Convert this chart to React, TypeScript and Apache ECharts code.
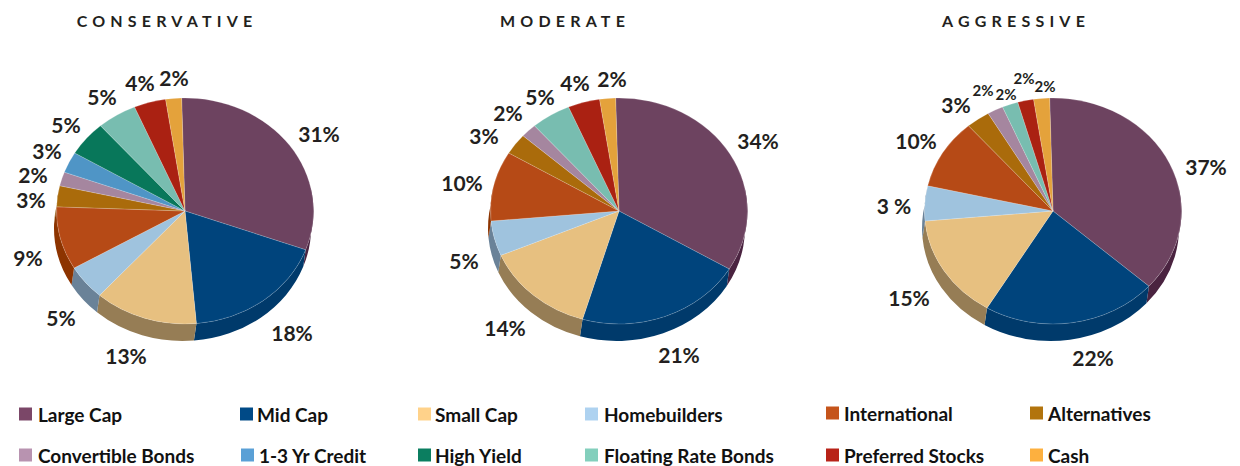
import React, { useEffect, useRef } from "react";
import * as echarts from "echarts";

const categories = ["Large Cap", "Mid Cap", "Small Cap", "Homebuilders", "International", "Alternatives", "Convertible Bonds", "1-3 Yr Credit", "High Yield", "Floating Rate Bonds", "Preferred Stocks", "Cash"];
const portfolios = ["CONSERVATIVE", "MODERATE", "AGGRESSIVE"];

const conservativeValues = [31, 18, 13, 5, 9, 3, 2, 3, 5, 5, 4, 2];
const moderateValues = [34, 21, 14, 5, 10, 3, 2, 0, 0, 5, 4, 2];
const aggressiveValues = [37, 22, 15, 5, 10, 3, 2, 0, 0, 2, 2, 2];

const conservativeLabels = ["31%", "18%", "13%", "5%", "9%", "3%", "2%", "3%", "5%", "5%", "4%", "2%"];
const moderateLabels = ["34%", "21%", "14%", "5%", "10%", "3%", "2%", "5%", "4%", "2%"];
const aggressiveLabels = ["37%", "22%", "15%", "3 %", "10%", "3%", "2%", "2%", "2%", "2%"];

// Styling and layout, kept apart from the data
const faceColors = ["#6d4360", "#00447c", "#e7c080", "#9fc3de", "#b64a16", "#aa6b0b", "#a5869f", "#4f95c6", "#08775a", "#78bdb0", "#aa2112", "#e4a23b"];
const wallColors = ["#4a2340", "#003a6b", "#967d55", "#6a8298", "#8d3400", "#8a5a00", "#7d6078", "#3a7099", "#055a44", "#5a8f85", "#801808", "#ad7a2a"];
const swatchColors = ["#7b4768", "#004a87", "#ffd28a", "#aed2f0", "#c5541b", "#b2740d", "#b893b0", "#5aa0d6", "#0b7e60", "#83cfbc", "#b82218", "#fdb03f"];

const pieCentres = [[185, 211], [619, 211], [1053, 211]];
const titleCentres = [167, 565, 1016];
const RX = 128.5;
const RY = 113;
const DEPTH = 17;
const WALL_SHIFT = -2.5;
const START_DEG = -1.5;

const labelPositions = [
  [[319, 133], [292, 332], [126, 355], [61, 317], [28, 257], [31, 199], [33, 174], [47, 150], [66, 124], [102, 96], [140, 82], [174, 77]],
  [[758, 140], [679, 354], [505, 327], [464, 260], [462, 182], [484, 135], [508, 112], [540, 96], [575, 82], [612, 78]],
  [[1206, 166], [1093, 357], [909, 297], [894, 205], [916, 140], [956, 104], [983, 90], [1006, 94], [1024, 78], [1045, 86]],
];
const smallLabelFrom = [99, 99, 6];

const legendSwatchX = [19, 240, 418, 585, 826, 1030, 19, 241, 418, 585, 826, 1030];
const legendTextX = [38, 257, 435, 604, 844, 1048, 38, 259, 435, 604, 844, 1048];
const legendY = [414, 414, 414, 414, 413, 413, 455, 455, 455, 455, 455, 455];

const FONT = "Lato";
const TEXT_COLOR = "#231f20";

function pt(cx: number, cy: number, deg: number) {
  const a = (deg * Math.PI) / 180;
  return [cx + RX * Math.sin(a), cy - RY * Math.cos(a)];
}

function facePath(cx: number, cy: number, a0: number, a1: number) {
  const p0 = pt(cx, cy, a0);
  const p1 = pt(cx, cy, a1);
  const large = a1 - a0 > 180 ? 1 : 0;
  return `M${cx} ${cy}L${p0[0]} ${p0[1]}A${RX} ${RY} 0 ${large} 1 ${p1[0]} ${p1[1]}Z`;
}

function wallPath(cx: number, cy: number, a0: number, a1: number) {
  const from = Math.max(a0, 78);
  const to = Math.min(a1, 282);
  if (to <= from) return null;
  const large = to - from > 180 ? 1 : 0;
  const t0 = pt(cx, cy, from);
  const t1 = pt(cx, cy, to);
  const b0 = pt(cx + WALL_SHIFT, cy + DEPTH, from);
  const b1 = pt(cx + WALL_SHIFT, cy + DEPTH, to);
  return `M${t0[0]} ${t0[1]}A${RX} ${RY} 0 ${large} 1 ${t1[0]} ${t1[1]}L${b1[0]} ${b1[1]}A${RX} ${RY} 0 ${large} 0 ${b0[0]} ${b0[1]}Z`;
}

function pieSeries(name: string, values: number[], centre: number[]) {
  const total = values.reduce((s, v) => s + v, 0);
  const rows = categories
    .map((c, i) => ({ name: c, value: values[i], colorIndex: i }))
    .filter((r) => r.value > 0);
  return {
    type: "custom",
    name,
    coordinateSystem: "none",
    silent: true,
    data: rows.map((r) => ({ name: r.name, value: [r.value] })),
    renderItem: (params: any) => {
      const row = rows[params.dataIndex];
      let before = 0;
      for (let i = 0; i < params.dataIndex; i++) before += rows[i].value;
      const a0 = START_DEG + (before / total) * 360;
      const a1 = a0 + (row.value / total) * 360;
      const children: any[] = [];
      const wall = wallPath(centre[0], centre[1], a0, a1);
      if (wall) {
        children.push({ type: "path", shape: { pathData: wall }, style: { fill: wallColors[row.colorIndex], stroke: null } });
      }
      children.push({
        type: "path",
        shape: { pathData: facePath(centre[0], centre[1], a0, a1) },
        style: { fill: faceColors[row.colorIndex], stroke: "rgba(255,255,255,0.35)", lineWidth: 0.5 },
      });
      return { type: "group", children };
    },
  };
}

function textEl(text: string, x: number, y: number, font: string, align: string, fill = TEXT_COLOR) {
  return {
    type: "text",
    x,
    y,
    silent: true,
    style: { text, x: 0, y: 0, font, fill, align, verticalAlign: "middle", textAlign: align, textVerticalAlign: "middle" },
  };
}

const allLabels = [conservativeLabels, moderateLabels, aggressiveLabels];
const allValues = [conservativeValues, moderateValues, aggressiveValues];

export default function App() {
  const ref = useRef<HTMLDivElement>(null);
  useEffect(() => {
    document.body.style.margin = "0";
    const chart = echarts.init(ref.current!, null, { renderer: "svg" });
    const graphic: any[] = [];
    portfolios.forEach((p, i) => {
      graphic.push(textEl(p, titleCentres[i], 20, `bold 16px ${FONT}`, "center"));
    });
    allLabels.forEach((labels, pi) => {
      labels.forEach((l, li) => {
        const pos = labelPositions[pi][li];
        const small = li >= smallLabelFrom[pi] && l === "2%";
        graphic.push(textEl(l, pos[0], pos[1], `bold ${small ? 15 : 21}px ${FONT}`, "center"));
      });
    });
    categories.forEach((c, i) => {
      graphic.push({
        type: "rect",
        silent: true,
        shape: { x: legendSwatchX[i], y: legendY[i] - 6.5, width: 13, height: 13 },
        style: { fill: swatchColors[i] },
      });
      graphic.push(textEl(c, legendTextX[i], legendY[i], `bold 19px ${FONT}`, "left", "#111111"));
    });
    chart.setOption({
      animation: false,
      backgroundColor: "#ffffff",
      tooltip: { show: false },
      series: portfolios.map((p, i) => pieSeries(p, allValues[i], pieCentres[i])),
      graphic,
    });
    ref.current!.querySelectorAll("text").forEach((t) => {
      if (portfolios.includes((t.textContent || "").trim())) {
        (t as SVGTextElement).style.letterSpacing = "5.2px";
      }
    });
    return () => chart.dispose();
  }, []);
  return <div ref={ref} style={{ position: "absolute", left: 0, top: 0, width: 1240, height: 466 }} />;
}
